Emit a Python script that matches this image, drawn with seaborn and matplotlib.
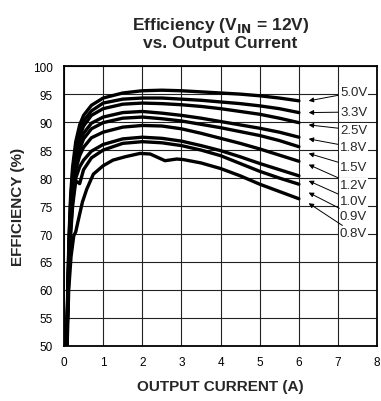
"""Efficiency vs. output current curves for several output voltages (VIN = 12V)."""

import pandas as pd
import seaborn as sns
from matplotlib import pyplot as plt

plt.switch_backend("Agg")

# output current (A) shared by most curves
CURRENT = [0.07, 0.1, 0.13, 0.17, 0.22, 0.3, 0.4, 0.5, 0.7, 1.0,
           1.5, 2.0, 2.5, 3.0, 3.5, 4.0, 4.5, 5.0, 5.5, 6.0]

EFF_5V0 = [50, 62, 70, 77, 82, 86.5, 89.5, 91.2, 93.0, 94.3,
           95.2, 95.6, 95.7, 95.6, 95.4, 95.2, 95.0, 94.7, 94.3, 93.8]
EFF_3V3 = [50, 61, 69, 76, 81, 85.5, 88.5, 90.2, 92.0, 93.4,
           94.1, 94.3, 94.3, 94.1, 93.9, 93.6, 93.3, 92.9, 92.4, 91.7]
EFF_2V5 = [50, 60, 68, 75, 80, 84.5, 87.5, 89.3, 91.2, 92.4,
           93.2, 93.4, 93.3, 93.1, 92.8, 92.4, 91.9, 91.4, 90.7, 89.9]
EFF_1V8 = [50, 60, 67, 74, 79, 83.5, 86.3, 88.0, 89.8, 90.9,
           91.7, 91.9, 91.6, 91.2, 90.7, 90.1, 89.5, 88.9, 88.2, 87.3]
EFF_1V5 = [50, 59, 66, 73, 78, 82.5, 85.2, 87.0, 88.8, 89.9,
           90.7, 90.9, 90.6, 90.2, 89.6, 89.0, 88.3, 87.6, 86.7, 85.6]
EFF_1V2 = [50, 59, 66, 72, 77, 81.5, 84.0, 85.5, 87.2, 88.2,
           89.1, 89.4, 89.3, 88.8, 88.0, 87.1, 86.2, 85.2, 84.1, 83.0]
EFF_1V0 = [50, 58, 65, 71, 76, 80.0, 82.0, 83.2, 84.8, 86.0,
           87.0, 87.3, 87.1, 86.6, 85.8, 84.9, 83.8, 82.6, 81.5, 80.4]
EFF_0V9 = [50, 58, 64, 70, 75, 79.5, 79.0, 81.5, 83.6, 85.0,
           86.2, 86.5, 86.3, 85.8, 85.0, 84.0, 82.6, 81.2, 80.0, 78.9]

# the 0.8V curve has its own sample points (notch and wiggles)
CURRENT_0V8 = [0.08, 0.12, 0.18, 0.25, 0.3, 0.35, 0.47, 0.58, 0.75, 1.0,
               1.25, 1.56, 1.94, 2.2, 2.58, 2.88, 3.05, 3.5, 4.0, 4.5,
               5.0, 5.5, 6.0]
EFF_0V8 = [50, 60, 66, 69.7, 70.4, 72.0, 75.7, 78.0, 80.7, 82.2,
           83.2, 83.8, 84.4, 84.3, 83.1, 83.4, 83.3, 82.7, 81.7, 80.4,
           78.9, 77.6, 76.3]

LABELS = ["5.0V", "3.3V", "2.5V", "1.8V", "1.5V", "1.2V", "1.0V", "0.9V", "0.8V"]
LABEL_Y = [95.3, 91.8, 88.6, 85.5, 82.0, 78.8, 75.9, 73.3, 70.2]
ARROW_Y = [93.8, 91.7, 89.5, 87.0, 84.4, 82.4, 79.5, 77.4, 75.5]


def build_frame() -> pd.DataFrame:
    series = [EFF_5V0, EFF_3V3, EFF_2V5, EFF_1V8, EFF_1V5, EFF_1V2, EFF_1V0, EFF_0V9]
    parts = []
    for label, eff in zip(LABELS[:-1], series):
        parts.append(pd.DataFrame({"current": CURRENT, "eff": eff, "vout": label}))
    parts.append(pd.DataFrame({"current": CURRENT_0V8, "eff": EFF_0V8, "vout": "0.8V"}))
    return pd.concat(parts, ignore_index=True)


def main() -> None:
    sns.set_style("white")
    plt.rcParams["font.family"] = ["Liberation Sans", "DejaVu Sans"]

    df = build_frame()

    fig = plt.figure(figsize=(3.81, 4.02), dpi=100)
    ax = fig.add_axes([0.168, 0.137, 0.822, 0.696])

    sns.lineplot(
        data=df, x="current", y="eff", hue="vout", units="vout", estimator=None,
        sort=False, palette=["black"] * len(LABELS), linewidth=2.4,
        legend=False, ax=ax,
    )

    ax.set_xlim(0, 8)
    ax.set_ylim(50, 100)
    ax.set_xticks(range(0, 9))
    ax.set_yticks(range(50, 101, 5))
    ax.grid(True, color="#222222", linewidth=0.8)
    ax.set_axisbelow(True)
    for spine in ax.spines.values():
        spine.set_color("black")
        spine.set_linewidth(1.3)
    ax.tick_params(length=0, labelsize=8.5, colors="black")
    ax.tick_params(axis="x", pad=7)
    ax.tick_params(axis="y", pad=8)

    for label, ly, ay in zip(LABELS, LABEL_Y, ARROW_Y):
        ax.annotate(
            label, xy=(6.25, ay), xytext=(7.05, ly), ha="left", va="center",
            fontsize=9.5,
            bbox=dict(boxstyle="square,pad=0.05", fc="white", ec="none"),
            arrowprops=dict(arrowstyle="-|>", color="black", lw=0.7,
                            mutation_scale=7, shrinkA=1, shrinkB=0),
        )

    ax.set_xlabel("OUTPUT CURRENT (A)", fontsize=11, fontweight="bold", labelpad=8)
    ax.set_ylabel("EFFICIENCY (%)", fontsize=11, fontweight="bold", labelpad=6)
    ax.set_title("Efficiency (V$_{\\mathbf{IN}}$ = 12V)\nvs. Output Current",
                 fontsize=12.5, fontweight="bold", pad=14, linespacing=1.05)

    fig.savefig("out.png", dpi=100)
    plt.close(fig)


if __name__ == "__main__":
    main()
